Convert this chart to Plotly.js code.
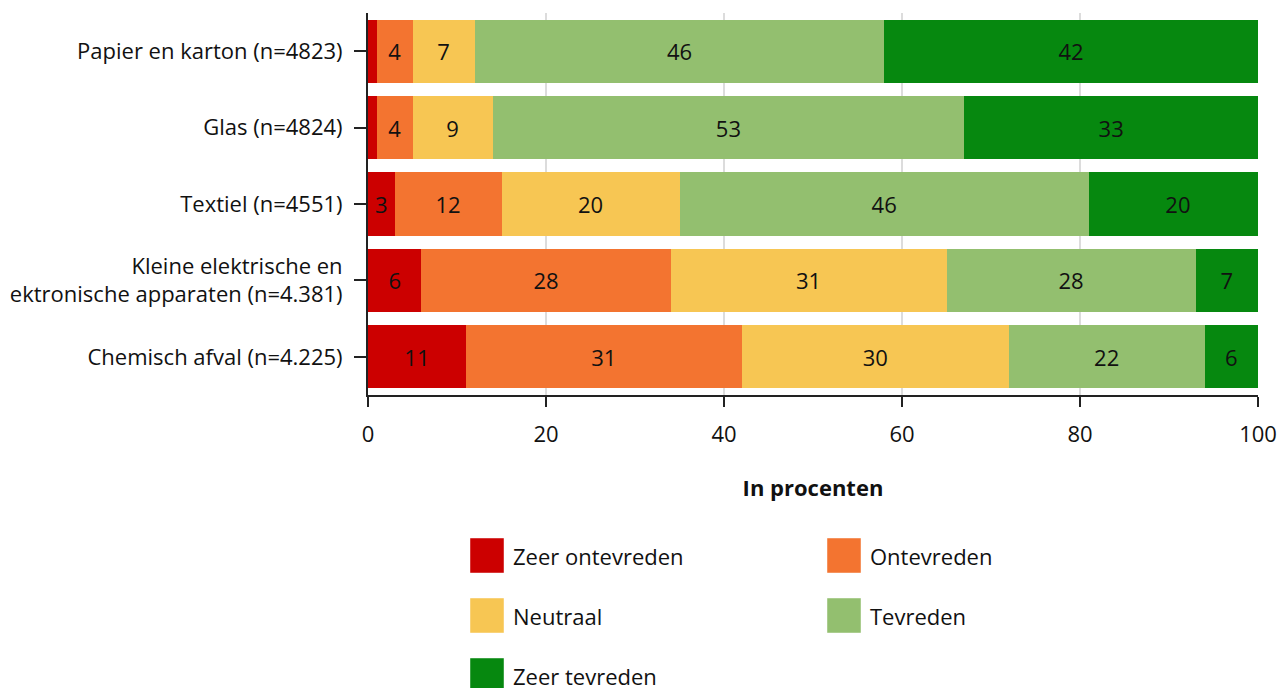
<!DOCTYPE html>
<html>
<head>
<meta charset="utf-8">
<script src="https://cdn.plot.ly/plotly-3.0.1.min.js"></script>
<style>
  html, body { margin: 0; padding: 0; background: #ffffff; }
  #chart { width: 1286px; height: 688px; }
</style>
</head>
<body>
<div id="chart"></div>
<script>
// Waste streams (top to bottom)
const categories = [
  'Papier en karton (n=4823)',
  'Glas (n=4824)',
  'Textiel (n=4551)',
  'Kleine elektrische en<br>ektronische apparaten (n=4.381)',
  'Chemisch afval (n=4.225)'
];

// Satisfaction levels, in percent per waste stream
const seriesNames = ['Zeer ontevreden', 'Ontevreden', 'Neutraal', 'Tevreden', 'Zeer tevreden'];
const zeerOntevreden = [1, 1, 3, 6, 11];
const ontevreden     = [4, 4, 12, 28, 31];
const neutraal       = [7, 9, 20, 31, 30];
const tevreden       = [46, 53, 46, 28, 22];
const zeerTevreden   = [42, 33, 20, 7, 6];
const xTicks = [0, 20, 40, 60, 80, 100];

const seriesValues = [zeerOntevreden, ontevreden, neutraal, tevreden, zeerTevreden];
const colors = ['#cc0000', '#f37430', '#f7c653', '#93bf6f', '#06880f'];

const FONT = '"Open Sans", "Noto Sans", sans-serif';
const TEXT = '#111111';

const traces = seriesNames.map((name, i) => ({
  type: 'bar',
  orientation: 'h',
  name: name,
  y: categories,
  x: seriesValues[i],
  text: seriesValues[i].map(String),
  textposition: 'inside',
  insidetextanchor: 'middle',
  textangle: 0,
  textfont: { family: FONT, size: 22, color: TEXT },
  marker: { color: colors[i], line: { width: 0 } },
  hoverinfo: 'name+x',
  showlegend: false
}));

// Plot area geometry (pixels) used to place the legend below the axis
const W = 1286, H = 688;
const M = { l: 368, r: 28, t: 13, b: 293 };
const plotW = W - M.l - M.r;
const plotH = H - M.t - M.b;
const px = x => (x - M.l) / plotW;
const py = y => (H - M.b - y) / plotH;

const legendCols = [470, 827];
const legendRows = [538, 598, 658];
const SW = 34, SH = 35;

const shapes = [];
const annotations = [];
seriesNames.forEach((name, i) => {
  const cx = legendCols[i % 2];
  const ry = legendRows[Math.floor(i / 2)];
  shapes.push({
    type: 'rect', xref: 'paper', yref: 'paper',
    x0: px(cx), x1: px(cx + SW), y0: py(ry + SH), y1: py(ry),
    fillcolor: colors[i],
    line: { color: 'rgba(255,255,255,0.45)', width: 1 }
  });
  annotations.push({
    xref: 'paper', yref: 'paper',
    x: px(cx + SW + 7), y: py(ry + SH / 2),
    xanchor: 'left', yanchor: 'middle',
    text: name, showarrow: false,
    font: { family: FONT, size: 22, color: TEXT }
  });
});

const layout = {
  width: W, height: H,
  margin: M,
  barmode: 'stack',
  bargap: 0.175,
  paper_bgcolor: '#ffffff',
  plot_bgcolor: '#ffffff',
  font: { family: FONT, size: 22, color: TEXT },
  uniformtext: { mode: 'hide', minsize: 22 },
  xaxis: {
    range: [0, 100],
    tickvals: xTicks,
    ticktext: xTicks.map(String),
    showgrid: true, gridcolor: '#dcdcdc', gridwidth: 2,
    zeroline: false,
    showline: true, linecolor: '#222222', linewidth: 2,
    ticks: 'outside', ticklen: 10, tickwidth: 2, tickcolor: '#222222',
    ticklabelstandoff: 9,
    tickfont: { family: FONT, size: 22, color: TEXT },
    title: {
      text: '<b>In procenten</b>',
      font: { family: FONT, size: 22, color: TEXT },
      standoff: 33
    },
    fixedrange: true
  },
  yaxis: {
    autorange: 'reversed',
    showgrid: false,
    zeroline: false,
    showline: true, linecolor: '#222222', linewidth: 2,
    ticks: 'outside', ticklen: 12, tickwidth: 2, tickcolor: '#222222',
    ticklabelstandoff: 7,
    tickfont: { family: FONT, size: 22, color: TEXT },
    fixedrange: true
  },
  shapes: shapes,
  annotations: annotations
};

Plotly.newPlot('chart', traces, layout, { displayModeBar: false, staticPlot: true });
</script>
</body>
</html>
